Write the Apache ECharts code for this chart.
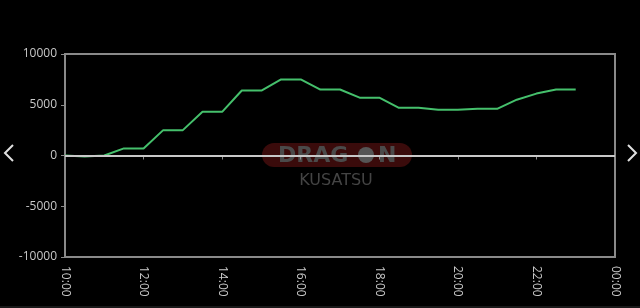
<!DOCTYPE html>
<html>
<head>
<meta charset="utf-8">
<script src="https://cdn.jsdelivr.net/npm/echarts@6/dist/echarts.min.js"></script>
<style>
html,body{margin:0;padding:0;background:#000;}
#c{width:640px;height:308px;}
</style>
</head>
<body>
<div id="c"></div>
<script>
// Time in hours (10:00 .. 23:00, every 30 minutes)
var hours = [10, 10.5, 11, 11.5, 12, 12.5, 13, 13.5, 14, 14.5, 15, 15.5, 16, 16.5, 17, 17.5, 18, 18.5, 19, 19.5, 20, 20.5, 21, 21.5, 22, 22.5, 23];
var values = [0, -100, 0, 700, 700, 2500, 2500, 4300, 4300, 6400, 6400, 7500, 7500, 6500, 6500, 5700, 5700, 4700, 4700, 4500, 4500, 4600, 4600, 5500, 6100, 6500, 6500];
var yTicks = [-10000, -5000, 0, 5000, 10000];
var xTickHours = [10, 12, 14, 16, 18, 20, 22, 24];

var data = hours.map(function (h, i) { return [h, values[i]]; });

function fmtHour(v) {
  var h = Math.round(v) % 24;
  return (h < 10 ? '0' : '') + h + ':00';
}

var chart = echarts.init(document.getElementById('c'), null, {renderer: 'canvas'});
chart.setOption({
  backgroundColor: '#000',
  animation: false,
  textStyle: {fontFamily: 'Open Sans'},
  grid: {left: 65, right: 25, top: 54, bottom: 51, show: true, borderColor: '#8a8a8a', borderWidth: 2, backgroundColor: 'transparent'},
  xAxis: {
    type: 'value',
    min: xTickHours[0],
    max: xTickHours[xTickHours.length - 1],
    interval: 2,
    axisLine: {show: true, lineStyle: {color: '#8a8a8a', width: 2}},
    axisTick: {show: true, length: 4, lineStyle: {color: '#8a8a8a', width: 1}},
    splitLine: {show: false},
    axisLabel: {
      rotate: -90,
      color: '#c8c8c8',
      fontSize: 12,
      margin: 9,
      formatter: fmtHour
    }
  },
  yAxis: {
    type: 'value',
    min: yTicks[0],
    max: yTicks[yTicks.length - 1],
    interval: 5000,
    axisLine: {show: true, lineStyle: {color: '#8a8a8a', width: 2}},
    axisTick: {show: true, length: 4, lineStyle: {color: '#8a8a8a', width: 1}},
    splitLine: {show: false},
    axisLabel: {color: '#c8c8c8', fontSize: 12, margin: 8, formatter: function (v) { return String(v); }}
  },
  graphic: [
    {type: 'rect', z: -1, shape: {x: 262, y: 143, width: 150, height: 24, r: 12}, style: {fill: '#3a0b0b'}},
    {type: 'text', z: -1, style: {x: 278, y: 156, text: 'DRAG', fill: '#4a4a4a', font: 'bold 22px "DejaVu Sans"', textAlign: 'left', textVerticalAlign: 'middle'}},
    {type: 'circle', z: -1, shape: {cx: 366, cy: 155, r: 8}, style: {fill: '#555'}},
    {type: 'text', z: -1, style: {x: 378, y: 156, text: 'N', fill: '#4a4a4a', font: 'bold 22px "DejaVu Sans"', textAlign: 'left', textVerticalAlign: 'middle'}},
    {type: 'text', z: -1, style: {x: 336, y: 181, text: 'KUSATSU', fill: '#444', font: '16px "DejaVu Sans"', textAlign: 'center', textVerticalAlign: 'middle'}},
    {type: 'polyline', shape: {points: [[13, 145], [5, 153], [13, 161]]}, style: {stroke: '#e0e0e0', lineWidth: 2, fill: null}},
    {type: 'polyline', shape: {points: [[628, 145], [636, 153], [628, 161]]}, style: {stroke: '#e0e0e0', lineWidth: 2, fill: null}},
    {type: 'line', shape: {x1: 0, y1: 307, x2: 640, y2: 307}, style: {stroke: '#333', lineWidth: 1}}
  ],
  series: [{
    type: 'line',
    data: data,
    showSymbol: false,
    lineStyle: {color: '#45c06c', width: 2},
    itemStyle: {color: '#45c06c'},
    markLine: {
      silent: true,
      symbol: 'none',
      label: {show: false},
      lineStyle: {color: '#c8c8c8', width: 2, type: 'solid'},
      data: [{yAxis: 0}]
    },
    z: 3
  }]
});
</script>
</body>
</html>
